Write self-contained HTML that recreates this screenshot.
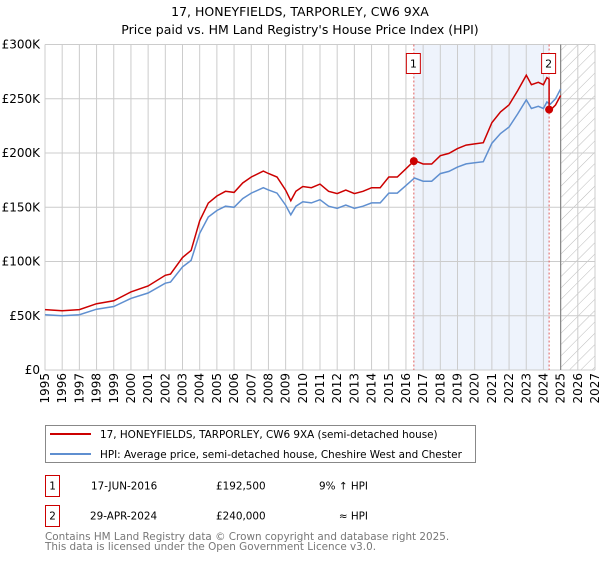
<!DOCTYPE html>
<html><head><meta charset="utf-8"><style>
body{margin:0;background:#fff;font-family:"Liberation Sans","DejaVu Sans",sans-serif;}
svg text{font-family:"DejaVu Sans","Liberation Sans",sans-serif;}
</style></head><body>
<svg id="c" width="600" height="560" viewBox="0 0 600 560">
<defs><pattern id="hatch" width="8" height="8" patternUnits="userSpaceOnUse" patternTransform="rotate(45)"><line x1="0" y1="0" x2="0" y2="8" stroke="#bbb" stroke-width="1"/></pattern></defs>
<text x="300" y="16" text-anchor="middle" font-size="12.5" fill="#000">17, HONEYFIELDS, TARPORLEY, CW6 9XA</text>
<text x="300" y="34" text-anchor="middle" font-size="12.5" fill="#000">Price paid vs. HM Land Registry's House Price Index (HPI)</text>
<g id="plot"></g>
<rect x="45.5" y="425.5" width="430" height="37" fill="#fff" stroke="#888"/>
<line x1="50" y1="434" x2="91" y2="434" stroke="#cc0000" stroke-width="2"/>
<text x="100" y="438" font-size="10.4">17, HONEYFIELDS, TARPORLEY, CW6 9XA (semi-detached house)</text>
<line x1="50" y1="454" x2="91" y2="454" stroke="#5f8fd0" stroke-width="2"/>
<text x="100" y="458" font-size="10.4">HPI: Average price, semi-detached house, Cheshire West and Chester</text>
<rect x="45.5" y="475.5" width="14" height="21" fill="none" stroke="#cc0000"/>
<text x="52.5" y="489.5" text-anchor="middle" font-size="10.4">1</text>
<text x="91" y="489.5" font-size="10.4">17-JUN-2016</text>
<text x="216" y="489.5" font-size="10.4">£192,500</text>
<text x="368" y="489.5" text-anchor="end" font-size="10.4">9% ↑ HPI</text>
<rect x="45.5" y="505.5" width="14" height="21" fill="none" stroke="#cc0000"/>
<text x="52.5" y="519.5" text-anchor="middle" font-size="10.4">2</text>
<text x="90" y="519.5" font-size="10.4">29-APR-2024</text>
<text x="216" y="519.5" font-size="10.4">£240,000</text>
<text x="368" y="519.5" text-anchor="end" font-size="10.4">≈ HPI</text>
<text x="45" y="540" font-size="10.4" fill="#777">Contains HM Land Registry data © Crown copyright and database right 2025.</text>
<text x="45" y="550" font-size="10.4" fill="#777">This data is licensed under the Open Government Licence v3.0.</text>
</svg>
<script>
const hpiYears=[1995,1996,1997,1998,1999,2000,2001,2002,2002.3,2003,2003.5,2004,2004.5,2005,2005.5,2006,2006.5,2007,2007.7,2008,2008.5,2009,2009.3,2009.6,2010,2010.5,2011,2011.5,2012,2012.5,2013,2013.5,2014,2014.5,2015,2015.5,2016,2016.5,2017,2017.5,2018,2018.5,2019,2019.5,2020,2020.5,2021,2021.5,2022,2022.5,2023,2023.3,2023.7,2024,2024.2,2024.4,2024.7,2025];
const hpiValues=[51,50,51,56,58.5,66,71,80,81,95,101,126,141,147,151,150,158,163,168,166,163,152,143,151,155,154,157,151,149,152,149,151,154,154,163,163,170,177,174,174,181,183,187,190,191,192,209,218,224,236,249,241,243,241,247,245,250,259];
const saleDates=[2016.46,2024.33];
const salePrices=[192.5,240];
const yTicks=[0,50,100,150,200,250,300];
const yLabels=["£0","£50K","£100K","£150K","£200K","£250K","£300K"];
const xTicks=[1995,1996,1997,1998,1999,2000,2001,2002,2003,2004,2005,2006,2007,2008,2009,2010,2011,2012,2013,2014,2015,2016,2017,2018,2019,2020,2021,2022,2023,2024,2025,2026,2027];
const NS="http://www.w3.org/2000/svg";
const X0=45,X1=595,Y0=370,Y1=44.5;
const sx=v=>X0+(v-1995)/(2027-1995)*(X1-X0);
const sy=v=>Y0-v/300*(Y0-Y1);
const g=document.getElementById('plot');
function mk(t,a){const e=document.createElementNS(NS,t);for(const k in a)e.setAttribute(k,a[k]);g.appendChild(e);return e;}
function hpiAt(t){for(let i=0;i<hpiYears.length-1;i++){if(t>=hpiYears[i]&&t<=hpiYears[i+1]){const f=(t-hpiYears[i])/(hpiYears[i+1]-hpiYears[i]);return hpiValues[i]+f*(hpiValues[i+1]-hpiValues[i]);}}return hpiValues[hpiValues.length-1];}
let e;
e=mk('rect',{x:sx(saleDates[0]),y:Y1,width:sx(saleDates[1])-sx(saleDates[0]),height:Y0-Y1,fill:'#eef3fc'});


e=mk('rect',{x:sx(2025),y:Y1,width:X1-sx(2025),height:Y0-Y1,fill:'url(#hatch)'});


yTicks.forEach((v,i)=>{
 e=mk('line',{x1:X0,x2:X1,y1:sy(v),y2:sy(v),stroke:'#ccc','stroke-width':1});
 
 
 e=mk('text',{x:40,y:sy(v)+4,'text-anchor':'end','font-size':12});e.textContent=yLabels[i];
 
 
});
xTicks.forEach(v=>{
 e=mk('line',{x1:sx(v),x2:sx(v),y1:Y1,y2:Y0,stroke:'#ccc','stroke-width':1});
 
 
 e=mk('text',{x:0,y:0,'text-anchor':'end','font-size':12,transform:`translate(${sx(v)+4},${Y0+3}) rotate(-90)`});e.textContent=v;
 
 
});
e=mk('line',{x1:sx(2025),x2:sx(2025),y1:Y1,y2:Y0,stroke:'#888','stroke-width':1.2});


saleDates.forEach((d,i)=>{
 e=mk('line',{x1:sx(d),x2:sx(d),y1:Y1,y2:Y0,stroke:'#e06060','stroke-width':1,'stroke-dasharray':'2,2'});
 
 
 e=mk('rect',{x:sx(d)-7.5,y:53.5,width:14,height:20,fill:'#fff',stroke:'#cc0000'});
 
 
 e=mk('text',{x:sx(d)-0.5,y:67.5,'text-anchor':'middle','font-size':11});e.textContent=String(i+1);
 
 
});
const f1=salePrices[0]/hpiAt(saleDates[0]), f2=salePrices[1]/hpiAt(saleDates[1]);
let bp='',rp='';
hpiYears.forEach((t,i)=>{bp+=(i?'L':'M')+sx(t).toFixed(1)+','+sy(hpiValues[i]).toFixed(1);});
const rp1=[];
hpiYears.forEach((t,i)=>{if(t<saleDates[1])rp1.push([t,hpiValues[i]*f1]);});
rp1.push([saleDates[1],hpiAt(saleDates[1])*f1]);
rp1.push([saleDates[1],salePrices[1]]);
hpiYears.forEach((t,i)=>{if(t>saleDates[1])rp1.push([t,hpiValues[i]*f2]);});
rp1.forEach((p,i)=>{rp+=(i?'L':'M')+sx(p[0]).toFixed(1)+','+sy(p[1]).toFixed(1);});
e=mk('path',{d:bp,fill:'none',stroke:'#5f8fd0','stroke-width':1.5});


e=mk('path',{d:rp,fill:'none',stroke:'#cc0000','stroke-width':1.5});


saleDates.forEach((d,i)=>{
 e=mk('circle',{cx:sx(d),cy:sy(salePrices[i]),r:4,fill:'#cc0000'});
 
 
});
</script>
</body></html>
